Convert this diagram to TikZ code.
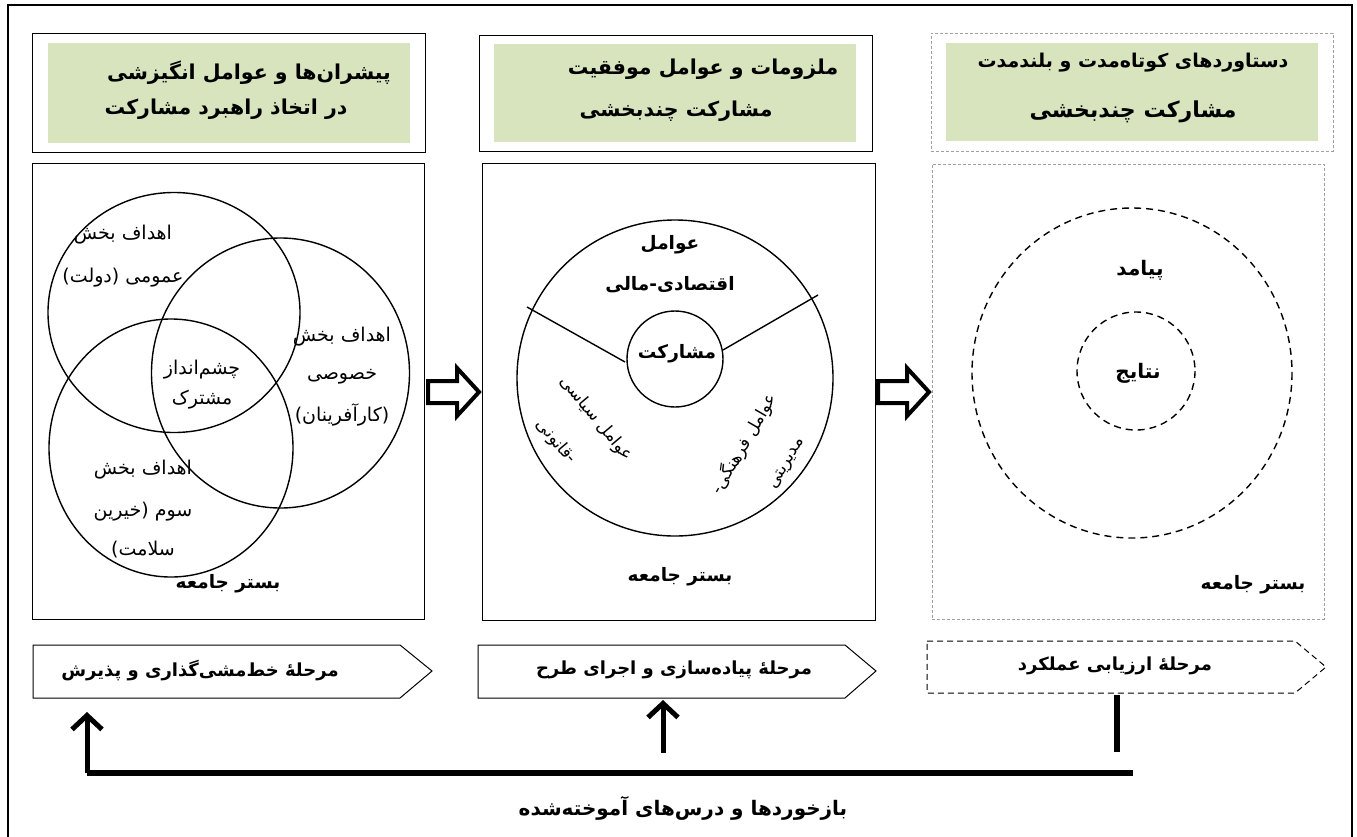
\documentclass[tikz,border=0pt]{standalone}
\usepackage{fontspec}
\usetikzlibrary{arrows.meta}
\TeXXeTstate=1
\newfontfamily\fa[Script=Arabic]{DejaVu Sans}
\newcommand{\rl}[1]{\beginR #1\endR}
\definecolor{hdgreen}{HTML}{D7E4BD}
\definecolor{dgray}{HTML}{A0A0A0}
\begin{document}
\begin{tikzpicture}[x=1pt,y=-1pt,
  txt/.style={font=\fa\fontsize{19}{22}\selectfont, inner sep=0},
  rtxt/.style={font=\fa\fontsize{17}{20}\selectfont, inner sep=0},
  btxt/.style={font=\fa\bfseries\fontsize{18.5}{22}\selectfont, inner sep=0},
  ptxt/.style={font=\fa\bfseries\fontsize{18}{22}\selectfont, inner sep=0},
  htxt/.style={font=\fa\bfseries\fontsize{20.5}{24}\selectfont, inner sep=0},
  boxline/.style={draw=black, line width=1pt},
  dbox/.style={draw=dgray, line width=0.8pt, dash pattern=on 3pt off 2pt},
  greenbox/.style={fill=hdgreen, draw=none},
  panel/.style={draw=black, line width=0.8pt},
  ring/.style={draw=black, line width=1.4pt},
  dring/.style={draw=black, line width=1.4pt, dash pattern=on 7pt off 5pt},
  blockarrow/.style={draw=black, line width=4pt, fill=white, line join=miter},
  phase/.style={draw=black, line width=1pt, fill=white},
  fb/.style={draw=black, line width=6pt},
  fbarrow/.style={draw=black, line width=5pt, -{Straight Barb[length=14pt,width=30pt,line width=5pt]}}
]
\useasboundingbox (0,0) rectangle (1357,836);
% outer frame
\node[draw=black, line width=2pt, minimum width=1344pt, minimum height=836pt, inner sep=0] (frame) at (680,423) {};

% ---- title boxes ----
\node[boxline, minimum width=393pt, minimum height=119pt, inner sep=0] (t1) at (228.5,92.5) {};
\node[greenbox, minimum width=362pt, minimum height=100pt, inner sep=0] (g1) at (229,93) {};
\node[htxt] (t1a) at (249,73) {\rl{پیشران‌ها و عوامل انگیزشی}};
\node[htxt] (t1b) at (226,109) {\rl{در اتخاذ راهبرد مشارکت}};

\node[boxline, minimum width=393pt, minimum height=116pt, inner sep=0] (t2) at (675.5,93) {};
\node[greenbox, minimum width=362pt, minimum height=98pt, inner sep=0] (g2) at (675,93) {};
\node[htxt] (t2a) at (703,69) {\rl{ملزومات و عوامل موفقیت}};
\node[htxt] (t2b) at (676,111) {\rl{مشارکت چندبخشی}};

\node[dbox, minimum width=402pt, minimum height=118pt, inner sep=0] (t3) at (1132,92) {};
\node[greenbox, minimum width=372pt, minimum height=98pt, inner sep=0] (g3) at (1132,92) {};
\node[htxt, font=\fa\bfseries\fontsize{19}{24}\selectfont] (t3a) at (1133,63) {\rl{دستاوردهای کوتاه‌مدت و بلندمدت}};
\node[htxt, font=\fa\bfseries\fontsize{22}{26}\selectfont] (t3b) at (1133,112) {\rl{مشارکت چندبخشی}};

% ---- panels ----
\node[panel, minimum width=392pt, minimum height=456pt, inner sep=0] (p1) at (228,391) {};
\node[panel, minimum width=393pt, minimum height=457pt, inner sep=0] (p2) at (678.5,391.5) {};
\node[dbox, minimum width=392pt, minimum height=455pt, inner sep=0] (p3) at (1128,391.5) {};

% panel 1: Venn
\draw[ring] (174,312.5) ellipse [x radius=126, y radius=120];
\draw[ring] (280.5,373) ellipse [x radius=129, y radius=135];
\draw[ring] (171,448) ellipse [x radius=122, y radius=129];
\node[txt] (v1a) at (123,235) {\rl{اهداف بخش}};
\node[txt] (v1b) at (123,278) {\rl{عمومی (دولت)}};
\node[txt] (v2a) at (342,337) {\rl{اهداف بخش}};
\node[txt] (v2b) at (342,377) {\rl{خصوصی}};
\node[txt] (v2c) at (342,415) {\rl{(کارآفرینان)}};
\node[txt] (v0a) at (202,370) {\rl{چشم‌انداز}};
\node[txt] (v0b) at (202,400) {\rl{مشترک}};
\node[txt] (v3a) at (143,470) {\rl{اهداف بخش}};
\node[txt] (v3b) at (143,512) {\rl{سوم (خیرین}};
\node[txt] (v3c) at (143,550) {\rl{سلامت)}};
\node[btxt] (b1) at (228,584) {\rl{بستر جامعه}};

% panel 2: wheel
\draw[ring] (675,378) circle [radius=158];
\draw[ring] (675,359) circle [radius=48];
\draw[ring] (527,307) -- (625,362);
\draw[ring] (818,295) -- (723,350);
\node[btxt] (w1a) at (670,245) {\rl{عوامل}};
\node[btxt] (w1b) at (670,285) {\rl{اقتصادی-مالی}};
\node[btxt] (w0) at (677,354) {\rl{مشارکت}};
\node[rtxt, rotate=-50] (w2a) at (596,419) {\rl{عوامل سیاسی}};
\node[rtxt, rotate=-50] (w2b) at (556,442) {\rl{-قانونی}};
\node[rtxt, rotate=60] (w3a) at (744,444) {\rl{عوامل فرهنگی-}};
\node[rtxt, rotate=60] (w3b) at (788,464) {\rl{مدیریتی}};
\node[btxt] (b2) at (680,577) {\rl{بستر جامعه}};

% panel 3: dashed circles
\draw[dring] (1132,373) ellipse [x radius=160, y radius=165];
\draw[dring] (1136,371) circle [radius=59];
\node[btxt, font=\fa\bfseries\fontsize{20}{24}\selectfont] (o1) at (1140,270) {\rl{پیامد}};
\node[btxt, font=\fa\bfseries\fontsize{20}{24}\selectfont] (o0) at (1138,373) {\rl{نتایج}};
\node[btxt] (b3) at (1253,585) {\rl{بستر جامعه}};

% ---- block arrows between panels ----
\draw[blockarrow] (428,381) -- (457,381) -- (457,368) -- (479,392) -- (457,416) -- (457,403) -- (428,403) -- cycle;
\draw[blockarrow] (878,381) -- (907,381) -- (907,368) -- (929,392) -- (907,416) -- (907,403) -- (878,403) -- cycle;

% ---- phase arrows ----
\draw[phase] (33,645) -- (400,645) -- (432,671) -- (400,698) -- (33,698) -- cycle;
\node[ptxt] (ph1) at (200,670) {\rl{مرحلهٔ خط‌مشی‌گذاری و پذیرش}};
\draw[phase] (478,645) -- (845,645) -- (876,671) -- (845,698) -- (478,698) -- cycle;
\node[ptxt] (ph2) at (674,670) {\rl{مرحلهٔ پیاده‌سازی و اجرای طرح}};
\draw[phase, dash pattern=on 6pt off 4pt] (927,641) -- (1295,641) -- (1326,667) -- (1295,693) -- (927,693) -- cycle;
\node[ptxt] (ph3) at (1115,666) {\rl{مرحلهٔ ارزیابی عملکرد}};

% ---- feedback ----
\coordinate (fbR) at (1133,773);
\coordinate (fbL) at (87,773);
\coordinate (fbLtip) at (87,712);
\coordinate (fbMbot) at (663,753);
\coordinate (fbMtip) at (663,700);
\coordinate (stubT) at (1117,695);
\coordinate (stubB) at (1117,752);
\draw[fb] (fbR) -- (fbL);
\draw[fbarrow] (fbL) -- (fbLtip);
\draw[fbarrow] (fbMbot) -- (fbMtip);
\draw[fb] (stubT) -- (stubB);
\node[ptxt, font=\fa\bfseries\fontsize{20}{24}\selectfont] (fbt) at (683,808) {\rl{بازخوردها و درس‌های آموخته‌شده}};
\end{tikzpicture}
\end{document}
